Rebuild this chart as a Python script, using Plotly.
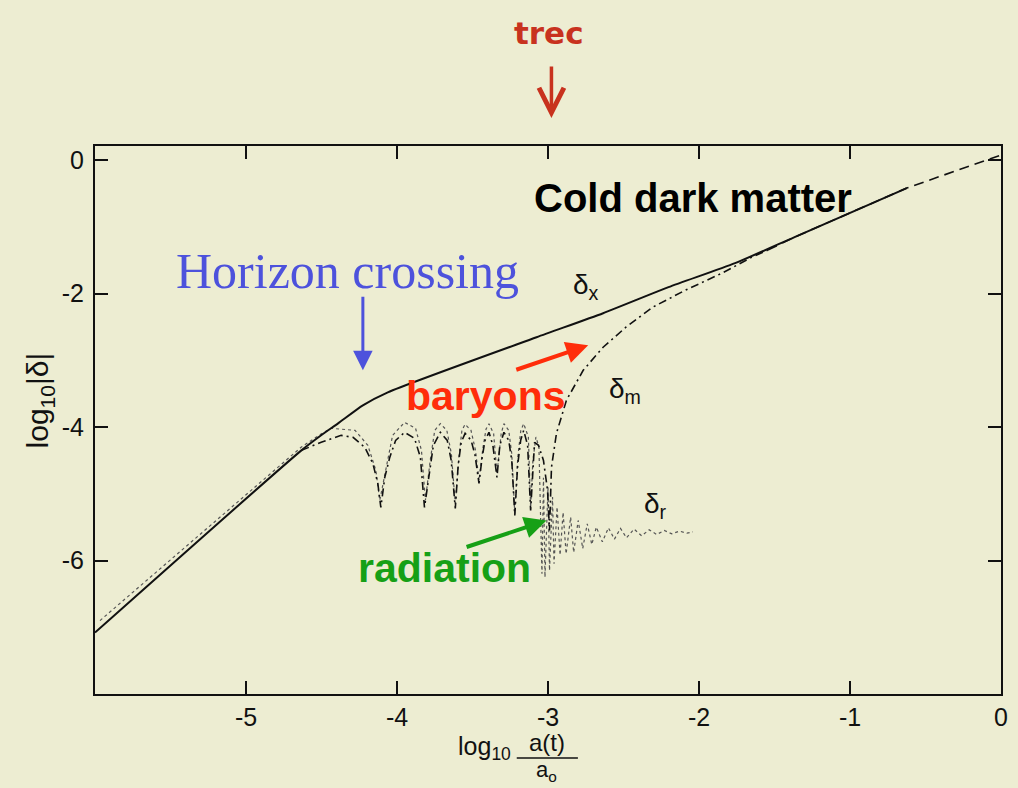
import plotly.graph_objects as go

# ---------------- data ----------------
# delta_x : cold dark matter (solid)
dx_x = [-6.0, -4.633, -4.50, -4.39, -4.226, -4.061, -3.076, -2.635, -2.202, -1.761, -1.367, -0.624]
dx_y = [-7.08, -4.35, -4.12, -3.945, -3.675, -3.48, -2.655, -2.295, -1.905, -1.545, -1.155, -0.42]

# delta_m : baryons (dash-dot)
dm_x = [-4.633, -4.502, -4.370, -4.291, -4.213, -4.160, -4.127, -4.107, -4.081, -4.048, -4.009,
        -3.950, -3.884, -3.845, -3.818, -3.785, -3.759, -3.713, -3.667, -3.641, -3.614, -3.595,
        -3.575, -3.549, -3.509, -3.483, -3.457, -3.437, -3.417, -3.391, -3.365, -3.338, -3.319,
        -3.292, -3.260, -3.240, -3.220, -3.201, -3.181, -3.161, -3.135, -3.115, -3.102, -3.089,
        -3.063, -3.030, -3.003, -2.990, -2.977, -2.944, -2.898, -2.878, -2.767, -2.635, -2.484,
        -2.307, -2.090, -1.847, -1.650, -1.544]
dm_y = [-4.35, -4.23, -4.125, -4.155, -4.305, -4.545, -4.845, -5.205, -4.755, -4.455, -4.20,
        -4.08, -4.17, -4.455, -5.205, -4.65, -4.275, -4.08, -4.20, -4.50, -5.22, -4.575,
        -4.23, -4.095, -4.20, -4.425, -4.845, -4.47, -4.20, -4.08, -4.275, -4.755, -4.275,
        -4.08, -4.20, -4.50, -5.325, -4.575, -4.20, -4.05, -4.275, -5.25, -4.65, -4.23,
        -4.275, -4.50, -4.95, -5.55, -4.605, -4.095, -3.75, -3.60, -3.15, -2.805, -2.505,
        -2.205, -1.95, -1.695, -1.455, -1.35]
# delta_m tail after merging with delta_x (dashed)
dm_tail_x = [-1.544, -1.367, -0.624, 0.0]
dm_tail_y = [-1.35, -1.155, -0.42, 0.075]

# delta_r : radiation (dotted)
dr_x = [-5.967, -5.376, -4.633, -4.50, -4.436, -4.278, -4.193, -4.140, -4.114, -4.075, -4.029,
        -3.950, -3.877, -3.838, -3.812, -3.78, -3.75, -3.713, -3.67, -3.64, -3.614, -3.59,
        -3.57, -3.549, -3.51, -3.48, -3.457, -3.43, -3.41, -3.391, -3.36, -3.338, -3.31,
        -3.292, -3.26, -3.24, -3.22, -3.20, -3.18, -3.161, -3.13, -3.115, -3.10, -3.08,
        -3.06, -3.04, -3.03, -3.02, -3.00, -2.99, -2.97, -2.96, -2.94, -2.92, -2.90, -2.88,
        -2.85, -2.83, -2.80, -2.77, -2.74, -2.71, -2.68, -2.64, -2.60, -2.56, -2.52, -2.48,
        -2.43, -2.38, -2.33, -2.28, -2.23, -2.18, -2.13, -2.08, -2.04]
dr_y = [-6.90, -5.745, -4.30, -4.10, -4.02, -4.05, -4.275, -4.65, -5.10, -4.65, -4.125,
        -3.93, -4.02, -4.35, -5.10, -4.50, -4.05, -3.95, -4.05, -4.40, -5.15, -4.45,
        -4.05, -3.96, -4.05, -4.35, -4.80, -4.30, -4.03, -3.95, -4.10, -4.70, -4.10,
        -3.95, -4.05, -4.40, -5.30, -4.45, -4.05, -3.95, -4.15, -5.20, -4.50, -4.15,
        -4.30, -6.20, -4.76, -6.25, -4.90, -6.15, -5.05, -6.05, -5.20, -5.92, -5.28, -5.90,
        -5.35, -5.88, -5.40, -5.82, -5.45, -5.76, -5.50, -5.72, -5.51, -5.68, -5.52, -5.66,
        -5.53, -5.63, -5.54, -5.61, -5.55, -5.60, -5.56, -5.59, -5.57]

x_ticks = [-5, -4, -3, -2, -1, 0]
x_tick_text = ["-5", "-4", "-3", "-2", "-1", "0"]
y_ticks = [0, -2, -4, -6]
y_tick_text = ["0", "-2", "-4", "-6"]

BG = "#ededd2"
INK = "#111111"
SANS = "Liberation Sans, Arial"

fig = go.Figure()
fig.add_trace(go.Scatter(x=dr_x, y=dr_y, mode="lines",
                         line=dict(color="#555555", width=1.2, dash="dot"), hoverinfo="skip"))
fig.add_trace(go.Scatter(x=dm_x, y=dm_y, mode="lines",
                         line=dict(color=INK, width=1.6, dash="8px,4px,2px,4px"), hoverinfo="skip"))
fig.add_trace(go.Scatter(x=dm_tail_x, y=dm_tail_y, mode="lines",
                         line=dict(color=INK, width=1.6, dash="10px,6px"), hoverinfo="skip"))
fig.add_trace(go.Scatter(x=dx_x, y=dx_y, mode="lines",
                         line=dict(color=INK, width=2, shape="spline", smoothing=0.6),
                         hoverinfo="skip"))

axis_common = dict(showline=True, linecolor=INK, linewidth=2, mirror="allticks",
                   ticks="inside", ticklen=13, tickwidth=2, tickcolor=INK,
                   showgrid=False, zeroline=False,
                   tickfont=dict(family=SANS, size=25, color=INK))
fig.update_xaxes(range=[-6, 0], tickvals=x_ticks, ticktext=x_tick_text,
                 ticklabelstandoff=0, **axis_common)
fig.update_yaxes(range=[-8.0, 0.21], tickvals=y_ticks, ticktext=y_tick_text,
                 ticklabelstandoff=4, **axis_common)

ann = []
# y-axis title (paper coords, outside plot)
ann.append(dict(x=-0.0602, y=0.5365, xref="paper", yref="paper", text="log<sub>10</sub>|δ|",
                textangle=-90, showarrow=False, xanchor="center", yanchor="middle",
                font=dict(family=SANS, size=30, color=INK)))
# x-axis title
ann.append(dict(x=0.4294, y=-0.0985, xref="paper", yref="paper", text="log<sub>10</sub>",
                showarrow=False, xanchor="center", yanchor="middle",
                font=dict(family=SANS, size=25, color=INK)))
ann.append(dict(x=0.4984, y=-0.0880, xref="paper", yref="paper", text="a(t)",
                showarrow=False, xanchor="center", yanchor="middle",
                font=dict(family=SANS, size=24, color=INK)))
ann.append(dict(x=0.4984, y=-0.1400, xref="paper", yref="paper", text="a<sub>o</sub>",
                showarrow=False, xanchor="center", yanchor="middle",
                font=dict(family=SANS, size=22, color=INK)))
# curve labels
for lx, ly, t in [(-2.747, -1.89, "δ<sub>x</sub>"), (-2.491, -3.45, "δ<sub>m</sub>"),
                  (-2.287, -5.175, "δ<sub>r</sub>")]:
    ann.append(dict(x=lx, y=ly, xref="x", yref="y", text=t, showarrow=False,
                    font=dict(family=SANS, size=28, color=INK)))
# big labels
ann.append(dict(x=-2.037, y=-0.57, xref="x", yref="y", text="<b>Cold dark matter</b>",
                showarrow=False, font=dict(family=SANS, size=40, color="#000000")))
ann.append(dict(x=-4.331, y=-1.665, xref="x", yref="y", text="Horizon crossing",
                showarrow=False, font=dict(family="Liberation Serif, Times New Roman", size=50,
                                            color="#4d52dc")))
ann.append(dict(x=-3.411, y=-3.54, xref="x", yref="y", text="<b>baryons</b>",
                showarrow=False, font=dict(family=SANS, size=41, color="#ff2d0a")))
ann.append(dict(x=-3.687, y=-6.105, xref="x", yref="y", text="<b>radiation</b>",
                showarrow=False, font=dict(family=SANS, size=41, color="#16a016")))
ann.append(dict(x=0.5016, y=1.206, xref="paper", yref="paper", text="<b>trec</b>",
                showarrow=False, xanchor="center", yanchor="middle",
                font=dict(family="DejaVu Sans", size=31, color="#c8321e")))
# arrows
ann.append(dict(x=-4.226, y=-3.15, ax=-4.226, ay=-2.025, xref="x", yref="y", axref="x", ayref="y",
                text="", showarrow=True, arrowhead=2, arrowsize=1.3, arrowwidth=3,
                arrowcolor="#4d52dc"))
ann.append(dict(x=-2.734, y=-2.775, ax=-3.220, ay=-3.15, xref="x", yref="y", axref="x", ayref="y",
                text="", showarrow=True, arrowhead=2, arrowsize=1.1, arrowwidth=4,
                arrowcolor="#ff2d0a"))
ann.append(dict(x=-3.010, y=-5.40, ax=-3.549, ay=-5.805, xref="x", yref="y", axref="x", ayref="y",
                text="", showarrow=True, arrowhead=2, arrowsize=1.1, arrowwidth=4,
                arrowcolor="#16a016"))
ann.append(dict(x=0.5038, y=1.051, xref="paper", yref="paper", ax=0, ay=-53,
                text="", showarrow=True, arrowhead=5, arrowsize=1.4, arrowwidth=3.5,
                arrowcolor="#c8321e"))

fig.update_layout(
    width=1018, height=788,
    margin=dict(l=95, r=10, t=146, b=94),
    paper_bgcolor=BG, plot_bgcolor=BG,
    showlegend=False,
    annotations=ann,
    shapes=[dict(type="line", xref="paper", yref="paper", x0=0.4655, x1=0.533,
                 y0=-0.1168, y1=-0.1168, line=dict(color=INK, width=1.5))],
)
fig.write_html("out.html")
